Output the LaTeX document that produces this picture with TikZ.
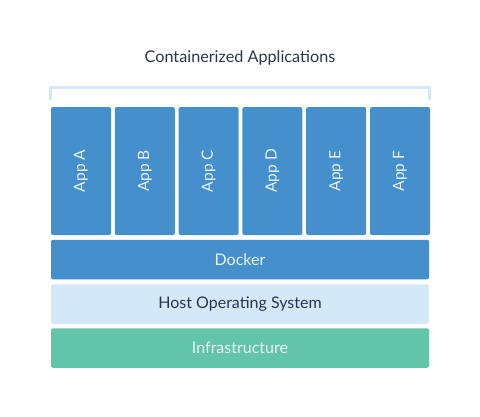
\documentclass[tikz,border=0pt]{standalone}
\usepackage{fontspec}
\setmainfont{Lato}
\definecolor{appblue}{HTML}{4590CC}
\definecolor{hostblue}{HTML}{D4E8F8}
\definecolor{infragreen}{HTML}{62C4A8}
\definecolor{navy}{HTML}{2A3650}
\definecolor{bracketc}{HTML}{D4E8F8}
\definecolor{lighttext}{HTML}{EAF2FA}
\begin{document}
\begin{tikzpicture}[x=1pt,y=-1pt,
  layer/.style={rounded corners=2pt, inner sep=0pt, minimum width=378pt, minimum height=39.5pt, font=\fontsize{16}{18}\selectfont},
  app/.style={fill=appblue, rounded corners=2pt, inner sep=0pt, minimum width=60pt, minimum height=128pt},
  applabel/.style={rotate=90, text=lighttext, font=\fontsize{15.5}{18}\selectfont}]
\useasboundingbox (0,0) rectangle (480,416);
\node[font=\fontsize{16.2}{19}\selectfont, text=navy] (title) at (240,58) {Containerized Applications};
\draw[bracketc, line width=3pt] (50.5,100) -- (50.5,87.5) -- (429.5,87.5) -- (429.5,100);
\foreach \n/\x in {A/81, B/144.8, C/208.6, D/272.4, E/336.2, F/400} {
  \node[app] (app\n) at (\x,171) {};
  \node[applabel] (lab\n) at (app\n.center) {App \n};
}
\node[layer, fill=appblue, text=lighttext] (docker) at (240,259.5) {Docker};
\node[layer, fill=hostblue, text=navy] (host) at (240,304) {Host Operating System};
\node[layer, fill=infragreen, text=lighttext] (infra) at (240,348) {Infrastructure};
\end{tikzpicture}
\end{document}
